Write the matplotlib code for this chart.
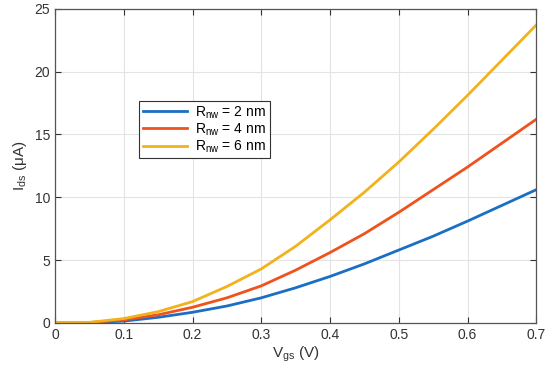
import matplotlib.pyplot as plt

# Vgs sweep (V) and drain current (uA)
vgs = [0, 0.05, 0.1, 0.15, 0.2, 0.25, 0.3, 0.35, 0.4, 0.45, 0.5, 0.55, 0.6, 0.65, 0.7]
ids_2nm = [0.02, 0.02, 0.15, 0.45, 0.85, 1.35, 2.0, 2.8, 3.7, 4.7, 5.8, 6.9, 8.1, 9.35, 10.6]
ids_4nm = [0.03, 0.03, 0.25, 0.65, 1.25, 2.0, 2.95, 4.2, 5.6, 7.1, 8.8, 10.6, 12.4, 14.3, 16.2]
ids_6nm = [0.05, 0.05, 0.35, 0.9, 1.7, 2.9, 4.3, 6.1, 8.2, 10.4, 12.8, 15.4, 18.1, 20.9, 23.7]
labels = ['R$_{\\mathregular{nw}}$ = 2 nm', 'R$_{\\mathregular{nw}}$ = 4 nm', 'R$_{\\mathregular{nw}}$ = 6 nm']
colors = ['#1a6fc4', '#f0521c', '#f2b21c']

plt.rcParams['font.family'] = ['Liberation Sans', 'DejaVu Sans']
plt.rcParams['mathtext.fontset'] = 'custom'
plt.rcParams['mathtext.rm'] = 'Liberation Sans'
plt.rcParams['mathtext.default'] = 'regular'

fig = plt.figure(figsize=(5.5, 3.76), dpi=100)
ax = fig.add_axes([0.1, 0.141, 0.875, 0.836])

for y, lab, c in zip([ids_2nm, ids_4nm, ids_6nm], labels, colors):
    ax.plot(vgs, y, color=c, lw=2, label=lab)

ax.set_xlim(0, 0.7)
ax.set_ylim(0, 25)
ax.set_xticks([0, 0.1, 0.2, 0.3, 0.4, 0.5, 0.6, 0.7])
ax.set_xticklabels(['0', '0.1', '0.2', '0.3', '0.4', '0.5', '0.6', '0.7'])
ax.set_yticks([0, 5, 10, 15, 20, 25])
ax.grid(True, color='#e3e3e3', lw=0.8)
ax.set_axisbelow(True)
ax.tick_params(direction='in', top=True, right=True, length=4, labelsize=10,
               colors='#333333', width=0.8)
for s in ax.spines.values():
    s.set_color('#555555')
    s.set_linewidth(0.9)

ax.set_xlabel('V$_{gs}$ (V)', fontsize=11, color='#333333', labelpad=2)
ax.set_ylabel('I$_{ds}$ ($\\mu$A)', fontsize=11, color='#333333', labelpad=4)

leg = ax.legend(loc='upper left', bbox_to_anchor=(0.175, 0.707), fontsize=10,
                fancybox=False, framealpha=1, edgecolor='#333333',
                handlelength=3.2, borderpad=0.25, labelspacing=0.05,
                handletextpad=0.6, borderaxespad=0)
leg.get_frame().set_linewidth(0.8)

fig.savefig('out.png', dpi=100)
